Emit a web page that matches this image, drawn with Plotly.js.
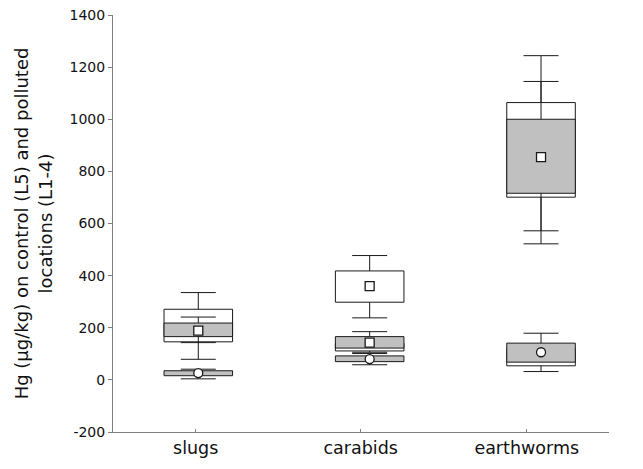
<!DOCTYPE html>
<html>
<head>
<meta charset="utf-8">
<script src="https://cdn.plot.ly/plotly-3.0.1.min.js"></script>
<style>html,body{margin:0;padding:0;background:#fff;}#chart{width:643px;height:469px;}</style>
</head>
<body>
<div id="chart"></div>
<script>
// ---- data ----
var categories = ['slugs', 'carabids', 'earthworms'];
var yTickVals  = [-200, 0, 200, 400, 600, 800, 1000, 1200, 1400];

// polluted locations (square marker)
var polMean       = [189, 143, 855];
var polWhiteLo    = [146, 111, 701];
var polWhiteHi    = [271, 140, 1064];
var polGrayLo     = [166, 122, 716];
var polGrayHi     = [218, 166, 1000];
var polRangeLo    = [79, 106, 522];
var polRangeHi    = [335, 185, 1244];
var polSdLo       = [143, null, 572];
var polSdHi       = [241, null, 1145];

// extra high group (carabids only, square marker, white box)
var hiMean        = [null, 360, null];
var hiBoxLo       = [null, 298, null];
var hiBoxHi       = [null, 418, null];
var hiRangeLo     = [null, 238, null];
var hiRangeHi     = [null, 477, null];

// control location (circle marker)
var ctlMean       = [26, 80, 106];
var ctlWhiteLo    = [null, null, 54];
var ctlWhiteHi    = [null, null, 120];
var ctlGrayLo     = [16, 70, 68];
var ctlGrayHi     = [35, 92, 141];
var ctlRangeLo    = [4, 58, 32];
var ctlRangeHi    = [41, 101, 179];

// ---- helpers ----
var pos = categories.map(function(c, i){ return i; });
var tickPos = [-0.0152, 0.9478, 1.9166];
var BOXW = 0.4, CAPW = 17.5, INK = '#1a1a1a';

function boxTrace(lo, hi, fill, yax){
  return {
    type: 'bar', x: pos, base: lo,
    y: lo.map(function(v, i){ return (v == null || hi[i] == null) ? null : hi[i] - v; }),
    width: BOXW, yaxis: yax, hoverinfo: 'skip', showlegend: false,
    marker: {color: fill, line: {color: INK, width: 1}}
  };
}
function whiskTrace(mid, lo, hi, yax){
  return {
    type: 'scatter', mode: 'markers', x: pos, y: mid, yaxis: yax,
    hoverinfo: 'skip', showlegend: false,
    marker: {size: 1, color: 'rgba(0,0,0,0)'},
    error_y: {
      type: 'data', symmetric: false, visible: true,
      array: mid.map(function(m, i){ return (m == null || hi[i] == null) ? null : hi[i] - m; }),
      arrayminus: mid.map(function(m, i){ return (m == null || lo[i] == null) ? null : m - lo[i]; }),
      width: CAPW, thickness: 1, color: INK
    }
  };
}
function meanTrace(mid, sym, size, yax){
  return {
    type: 'scatter', mode: 'markers', x: pos, y: mid, yaxis: yax,
    hoverinfo: 'skip', showlegend: false,
    marker: {symbol: sym, size: size, color: '#ffffff', line: {color: INK, width: 1.3}}
  };
}

var traces = [
  // layer 1: full-range whiskers
  whiskTrace(polMean, polRangeLo, polRangeHi, 'y'),
  whiskTrace(hiMean, hiRangeLo, hiRangeHi, 'y'),
  whiskTrace(ctlMean, ctlRangeLo, ctlRangeHi, 'y'),
  // layer 2: white boxes + inner whiskers
  boxTrace(polWhiteLo, polWhiteHi, '#ffffff', 'y2'),
  boxTrace(hiBoxLo, hiBoxHi, '#ffffff', 'y2'),
  boxTrace(ctlWhiteLo, ctlWhiteHi, '#ffffff', 'y2'),
  whiskTrace(polMean, polSdLo, polSdHi, 'y2'),
  // layer 3: gray boxes + means
  boxTrace(polGrayLo, polGrayHi, '#c0c0c0', 'y3'),
  boxTrace(ctlGrayLo, ctlGrayHi, '#c0c0c0', 'y3'),
  meanTrace(polMean, 'square', 9, 'y3'),
  meanTrace(hiMean, 'square', 9, 'y3'),
  meanTrace(ctlMean, 'circle', 9, 'y3')
];

var yr = [-200, 1400];
var layout = {
  width: 643, height: 469,
  margin: {l: 113, r: 34, t: 15, b: 37},
  paper_bgcolor: '#ffffff', plot_bgcolor: '#ffffff',
  showlegend: false, barmode: 'overlay',
  font: {family: 'DejaVu Sans, Verdana, sans-serif', color: '#111111'},
  xaxis: {
    range: [-0.4977, 2.3966], tickmode: 'array', tickvals: tickPos, ticktext: categories,
    ticks: 'inside', ticklen: 3, tickcolor: '#808080',
    showline: true, linecolor: '#808080', linewidth: 1,
    showgrid: false, zeroline: false, tickfont: {size: 17.5}, automargin: false
  },
  yaxis: {
    range: yr, tickmode: 'array', tickvals: yTickVals,
    ticktext: yTickVals.map(function(v){ return String(v); }),
    ticks: 'outside', ticklen: 4, tickcolor: '#808080',
    showline: true, linecolor: '#808080', linewidth: 1,
    showgrid: false, zeroline: false, tickfont: {size: 14}, automargin: false,
    title: {text: 'Hg (μg/kg) on control (L5) and polluted<br>locations (L1-4)', font: {size: 18}, standoff: 12}
  },
  yaxis2: {range: yr, overlaying: 'y', visible: false, showgrid: false, zeroline: false},
  yaxis3: {range: yr, overlaying: 'y', visible: false, showgrid: false, zeroline: false}
};

Plotly.newPlot('chart', traces, layout, {staticPlot: true, displayModeBar: false});
</script>
</body>
</html>
